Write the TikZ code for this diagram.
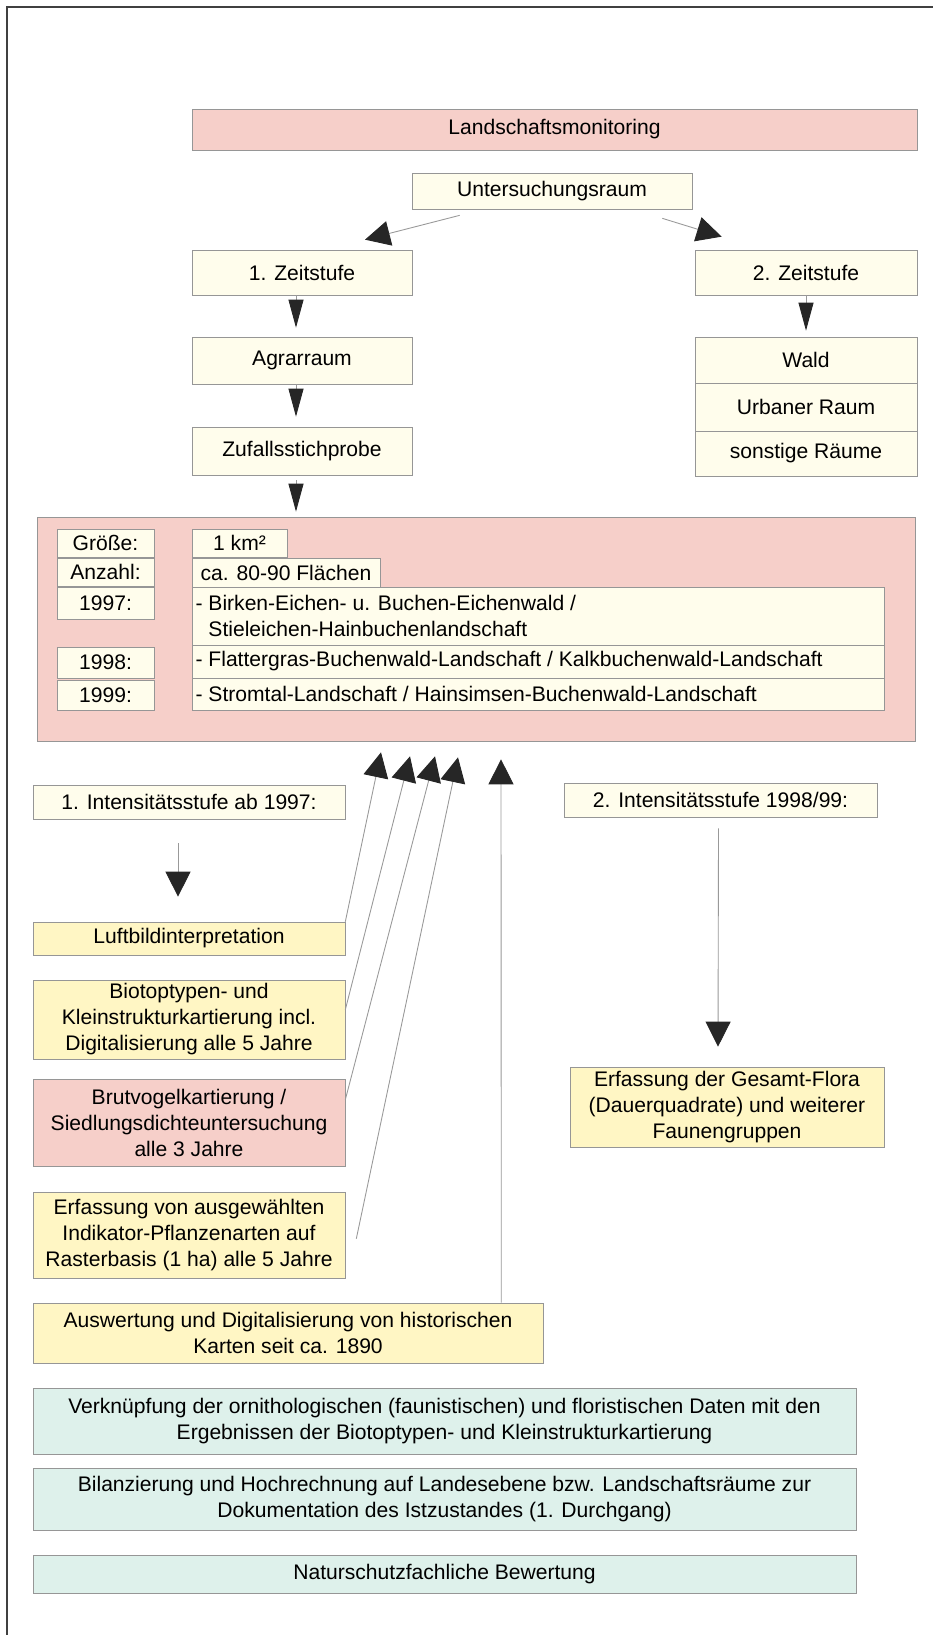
\documentclass[tikz,border=0pt]{standalone}
\usepackage{fontspec}
\setmainfont{Liberation Sans}
\usepackage{tikz}
\usetikzlibrary{arrows.meta,positioning,calc}
\usepackage{xcolor}
\definecolor{lmpink}{RGB}{246,207,201}
\definecolor{lmcream}{RGB}{255,253,236}
\definecolor{lmyellow}{RGB}{255,246,196}
\definecolor{lmteal}{RGB}{222,241,235}
\definecolor{lmframe}{RGB}{150,150,150}

\begin{document}
\begin{tikzpicture}[x=0.02cm, y=-0.02cm,
    font=\fontsize{12}{14.8}\selectfont,
    box/.style={draw=lmframe, line width=0.4pt, inner sep=0pt, align=center},
    creambox/.style={box, fill=lmcream},
    pinkbox/.style={box, fill=lmpink},
    yelbox/.style={box, fill=lmyellow},
    tealbox/.style={box, fill=lmteal},
    arr/.style={draw=gray!80, line width=0.5pt, -{Triangle[length=0.5cm,width=0.5cm,color=black!85]}},
    narr/.style={draw=gray!80, line width=0.5pt, -{Triangle[length=0.56cm,width=0.3cm,color=black!85]}}]
    % Page
    \useasboundingbox (0,0) rectangle (933,1635);
    \fill[white] (0,0) rectangle (933,1635);
    \draw[black!75, line width=0.8pt] (7,1635) -- (7,7) -- (933,7);

    % Title
    \node[pinkbox, minimum width=14.5cm, minimum height=0.82cm] (lm) at (554.5,129.5) {Landschaftsmonitoring};
    \node[creambox, minimum width=5.6cm, minimum height=0.72cm] (ur) at (552,191) {Untersuchungsraum};

    % Zeitstufen
    \node[creambox, minimum width=4.4cm, minimum height=0.9cm] (zs1) at (302,272.5) {1. Zeitstufe};
    \node[creambox, minimum width=4.44cm, minimum height=0.9cm] (zs2) at (806,272.5) {2. Zeitstufe};
    \node[creambox, minimum width=4.4cm, minimum height=0.94cm] (agr) at (302,360.5) {Agrarraum};
    \node[creambox, minimum width=4.4cm, minimum height=0.96cm] (zuf) at (302,451) {Zufallsstichprobe};
    \node[creambox, minimum width=4.44cm, minimum height=0.92cm] (wald) at (806,360) {Wald};
    \node[creambox, minimum width=4.44cm, minimum height=0.96cm] (urb) at (806,407) {Urbaner Raum};
    \node[creambox, minimum width=4.44cm, minimum height=0.9cm] (sonst) at (806,453.5) {sonstige Räume};

    % Stichprobenflaechen
    \node[pinkbox, minimum width=17.56cm, minimum height=4.48cm] (flaeche) at (476,629) {};
    \node[creambox, minimum width=1.94cm, minimum height=0.56cm] (lgr) at (105.5,543) {Größe:};
    \node[creambox, minimum width=1.9cm, minimum height=0.56cm] (vgr) at (239.5,543) {1 km²};
    \node[creambox, minimum width=1.94cm, minimum height=0.56cm] (lanz) at (105.5,572) {Anzahl:};
    \node[creambox, minimum width=3.76cm, minimum height=0.58cm] (vanz) at (286,572.5) {ca. 80-90 Flächen};
    \node[creambox, minimum width=1.94cm, minimum height=0.64cm] (l97) at (105.5,603) {1997:};
    \node[creambox, minimum width=13.84cm, minimum height=1.16cm] (v97) at (538,616) {};
    \node[anchor=west, align=left, inner sep=2pt] (t97) at (v97.west)
        {- Birken-Eichen- u. Buchen-Eichenwald /\\\hphantom{- }Stieleichen-Hainbuchenlandschaft};
    \node[creambox, minimum width=1.94cm, minimum height=0.62cm] (l98) at (105.5,662.5) {1998:};
    \node[creambox, minimum width=13.84cm, minimum height=0.66cm] (v98) at (538,661.5) {};
    \node[anchor=west, inner sep=2pt] (t98) at (v98.west)
        {- Flattergras-Buchenwald-Landschaft / Kalkbuchenwald-Landschaft};
    \node[creambox, minimum width=1.94cm, minimum height=0.6cm] (l99) at (105.5,695) {1999:};
    \node[creambox, minimum width=13.84cm, minimum height=0.64cm] (v99) at (538,694) {};
    \node[anchor=west, inner sep=2pt] (t99) at (v99.west)
        {- Stromtal-Landschaft / Hainsimsen-Buchenwald-Landschaft};

    % Intensitaetsstufen
    \node[creambox, minimum width=6.24cm, minimum height=0.68cm] (int1) at (189,802) {1. Intensitätsstufe ab 1997:};
    \node[creambox, minimum width=6.26cm, minimum height=0.68cm] (int2) at (720.5,800) {2. Intensitätsstufe 1998/99:};
    \node[yelbox, minimum width=6.24cm, minimum height=0.66cm] (luft) at (189,938.5) {Luftbildinterpretation};
    \node[yelbox, minimum width=6.24cm, minimum height=1.58cm] (biot) at (189,1019.5)
        {Biotoptypen- und\\Kleinstrukturkartierung incl.\\Digitalisierung alle 5 Jahre};
    \node[pinkbox, minimum width=6.24cm, minimum height=1.74cm] (brut) at (189,1122.5)
        {Brutvogelkartierung /\\Siedlungsdichteuntersuchung\\alle 3 Jahre};
    \node[yelbox, minimum width=6.24cm, minimum height=1.72cm] (erf) at (189,1235)
        {Erfassung von ausgewählten\\Indikator-Pflanzenarten auf\\Rasterbasis (1 ha) alle 5 Jahre};
    \node[yelbox, minimum width=10.2cm, minimum height=1.2cm] (ausw) at (288,1333)
        {Auswertung und Digitalisierung von historischen\\Karten seit ca. 1890};
    \node[yelbox, minimum width=6.28cm, minimum height=1.6cm] (flora) at (727,1107)
        {Erfassung der Gesamt-Flora\\(Dauerquadrate) und weiterer\\Faunengruppen};

    % Auswertung
    \node[tealbox, minimum width=16.46cm, minimum height=1.32cm] (verk) at (444.5,1421)
        {Verknüpfung der ornithologischen (faunistischen) und floristischen Daten mit den\\Ergebnissen der Biotoptypen- und Kleinstrukturkartierung};
    \node[tealbox, minimum width=16.46cm, minimum height=1.24cm] (bil) at (444.5,1499)
        {Bilanzierung und Hochrechnung auf Landesebene bzw. Landschaftsräume zur\\Dokumentation des Istzustandes (1. Durchgang)};
    \node[tealbox, minimum width=16.46cm, minimum height=0.76cm] (nat) at (444.5,1574) {Naturschutzfachliche Bewertung};

    % Arrows
    \draw[arr] ($(ur.south west)+(48,6)$) -- ($(zs1.north)+(63,-10)$);
    \draw[arr] ($(ur.south east)+(-30,9)$) -- ($(zs2.north west)+(27,-13)$);
    \draw[narr] ($(zs1.south)+(-6,0)$) -- ($(agr.north)+(-6,-9)$);
    \draw[narr] (zs2.south) -- ($(wald.north)+(0,-6)$);
    \draw[narr] ($(agr.south)+(-6,0)$) -- ($(zuf.north)+(-6,-10)$);
    \draw[narr] ($(zuf.south)+(-6,5)$) -- ($(zuf.south |- flaeche.north)+(-6,-5)$);
    \draw[arr] ($(int1.south)+(-11,24)$) -- ($(luft.north)+(-11,-25)$);
    \draw[arr] ($(int2.south)+(-2,11)$) -- ($(flora.north)+(-9,-20)$);
    \draw[arr] (luft.north east) -- ($(flaeche.south)+(-95,11)$);
    \draw[arr] ($(biot.north east)+(0,30)$) -- ($(flaeche.south)+(-66,15)$);
    \draw[arr] ($(brut.north east)+(0,21)$) -- ($(flaeche.south)+(-41,15)$);
    \draw[arr] ($(erf.north east)+(11,47)$) -- ($(flaeche.south)+(-18,16)$);
    \draw[arr] ($(ausw.north east)+(-42,0)$) -- ($(flaeche.south)+(25,18)$);
\end{tikzpicture}
\end{document}
